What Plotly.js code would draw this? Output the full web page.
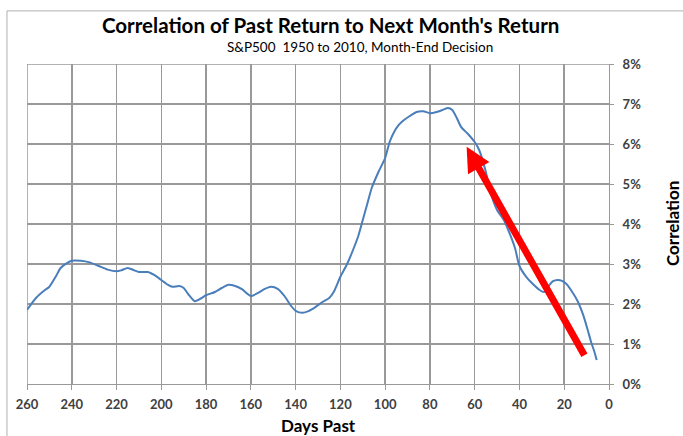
<!DOCTYPE html>
<html>
<head>
<meta charset="utf-8">
<script src="https://cdn.plot.ly/plotly-3.0.1.min.js"></script>
<style>
html,body{margin:0;padding:0;background:#fff;}
#chart{width:683px;height:436px;}
</style>
</head>
<body>
<div id="chart"></div>
<script>
// Days past (look-back window) and correlation with next month's return (%)
const daysPast = [260,256,252,250,247,245,242,240,236,232,228,224,220,218,215,212,210,206,203,200,197,195,192,190,188,185,182,180,176,173,170,167,164,160,157,154,151,148,145,142,140,137,134,131,128,125,123,120,117,114,112,110,108,106,103,100,98,96,94,92,89,86,83,80,77,74,72,70,68,66,63,60,58,55,53,50,47,45,42,40,37,34,31,29,27,25,23,21,19,17,14,11.5,9.5,8,6.5,5.5];
const correlationPct = [1.85,2.15,2.35,2.43,2.7,2.9,3.03,3.08,3.08,3.04,2.95,2.86,2.82,2.84,2.9,2.84,2.8,2.8,2.72,2.6,2.48,2.43,2.45,2.4,2.25,2.07,2.15,2.22,2.3,2.4,2.48,2.45,2.37,2.2,2.27,2.37,2.43,2.38,2.2,1.95,1.83,1.78,1.83,1.93,2.05,2.15,2.3,2.68,3.0,3.4,3.7,4.1,4.5,4.9,5.3,5.65,6.05,6.3,6.47,6.58,6.7,6.8,6.82,6.77,6.8,6.86,6.9,6.85,6.65,6.42,6.25,6.05,5.85,5.3,4.8,4.35,4.1,3.85,3.4,2.95,2.68,2.5,2.35,2.3,2.45,2.57,2.6,2.58,2.5,2.35,2.07,1.72,1.35,1.05,0.8,0.6];
// Red arrow: tail and head, in chart units (days, %)
const arrowTail = [10.6, 0.68];
const arrowHead = [63.6, 5.93];
const xTicks = [260,240,220,200,180,160,140,120,100,80,60,40,20,0];
const yTicks = [0,0.01,0.02,0.03,0.04,0.05,0.06,0.07,0.08];

const titleText = "Correlation of Past Return to Next Month's Return";
const subtitleText = "S&P500  1950 to 2010, Month-End Decision";
const xTitle = "Days Past";
const yTitle = "Correlation";

const corr = correlationPct.map(v => v / 100);
const FONT = "Lato, 'Open Sans', sans-serif";
const GRID = '#999999';

const trace = {
  x: daysPast, y: corr, type: 'scatter', mode: 'lines',
  line: {color: '#4a7ebb', width: 2, shape: 'spline', smoothing: 0.6},
  hoverinfo: 'x+y'
};

const xMax = xTicks[0], xMin = xTicks[xTicks.length - 1];
const yMin = yTicks[0], yMax = yTicks[yTicks.length - 1];

const layout = {
  width: 683, height: 436,
  margin: {l: 27, r: 74, t: 64, b: 52},
  paper_bgcolor: '#ffffff', plot_bgcolor: '#ffffff',
  showlegend: false,
  font: {family: FONT, color: '#404040'},
  xaxis: {
    range: [xMax, xMin], tickmode: 'array', tickvals: xTicks, ticktext: xTicks.map(String),
    showgrid: true, gridcolor: GRID, gridwidth: 1.5,
    showline: true, linecolor: '#9a9a9a', linewidth: 1,
    ticks: 'outside', ticklen: 5, tickcolor: '#9a9a9a',
    zeroline: false, ticklabelstandoff: 3,
    tickfont: {family: FONT, size: 13, color: '#404040', weight: 'bold'}
  },
  yaxis: {
    side: 'right', range: [yMin, yMax], tickmode: 'array', tickvals: yTicks, tickformat: '.0%',
    showgrid: true, gridcolor: GRID, gridwidth: 1.5,
    showline: true, linecolor: '#9a9a9a', linewidth: 1,
    ticks: 'outside', ticklen: 4, tickcolor: '#9a9a9a',
    zeroline: false, ticklabelstandoff: 6,
    tickfont: {family: FONT, size: 13, color: '#404040', weight: 'bold'}
  },
  shapes: [
    // edge grid lines (left at 260 days, top at 8%)
    {type: 'line', xref: 'x', yref: 'y', x0: xMax, x1: xMax, y0: yMin, y1: yMax,
     line: {color: GRID, width: 1.5}, layer: 'below'},
    {type: 'line', xref: 'x', yref: 'y', x0: xMax, x1: xMin, y0: yMax, y1: yMax,
     line: {color: GRID, width: 1.5}, layer: 'below'},
    // outer chart frame
    {type: 'path', xref: 'paper', yref: 'paper',
     path: 'M 1.3 1.166 L -0.0344 1.166 L -0.0344 -0.3',
     line: {color: '#b0b0b0', width: 1}, layer: 'above'}
  ],
  annotations: [
    {xref: 'paper', yref: 'paper', x: (330-27)/582, y: (384-25)/320, text: titleText,
     showarrow: false, xanchor: 'center', yanchor: 'middle',
     font: {family: FONT, size: 20.5, color: '#000000', weight: 'bold'}},
    {xref: 'paper', yref: 'paper', x: (360-27)/582, y: (384-47)/320, text: subtitleText,
     showarrow: false, xanchor: 'center', yanchor: 'middle',
     font: {family: FONT, size: 13.5, color: '#000000'}},
    {xref: 'paper', yref: 'paper', x: 0.5, y: (384-425)/320, text: xTitle,
     showarrow: false, xanchor: 'center', yanchor: 'middle',
     font: {family: FONT, size: 17, color: '#000000', weight: 'bold'}},
    {xref: 'paper', yref: 'paper', x: (672-27)/582, y: 0.5, text: yTitle, textangle: -90,
     showarrow: false, xanchor: 'center', yanchor: 'middle',
     font: {family: FONT, size: 17, color: '#000000', weight: 'bold'}},
    {xref: 'x', yref: 'y', axref: 'x', ayref: 'y',
     x: arrowHead[0], y: arrowHead[1] / 100, ax: arrowTail[0], ay: arrowTail[1] / 100,
     text: '', showarrow: true, arrowhead: 2, arrowsize: 0.7, arrowwidth: 7, arrowcolor: '#ff0000'}
  ]
};

Plotly.newPlot('chart', [trace], layout, {displayModeBar: false, staticPlot: true});
</script>
</body>
</html>
